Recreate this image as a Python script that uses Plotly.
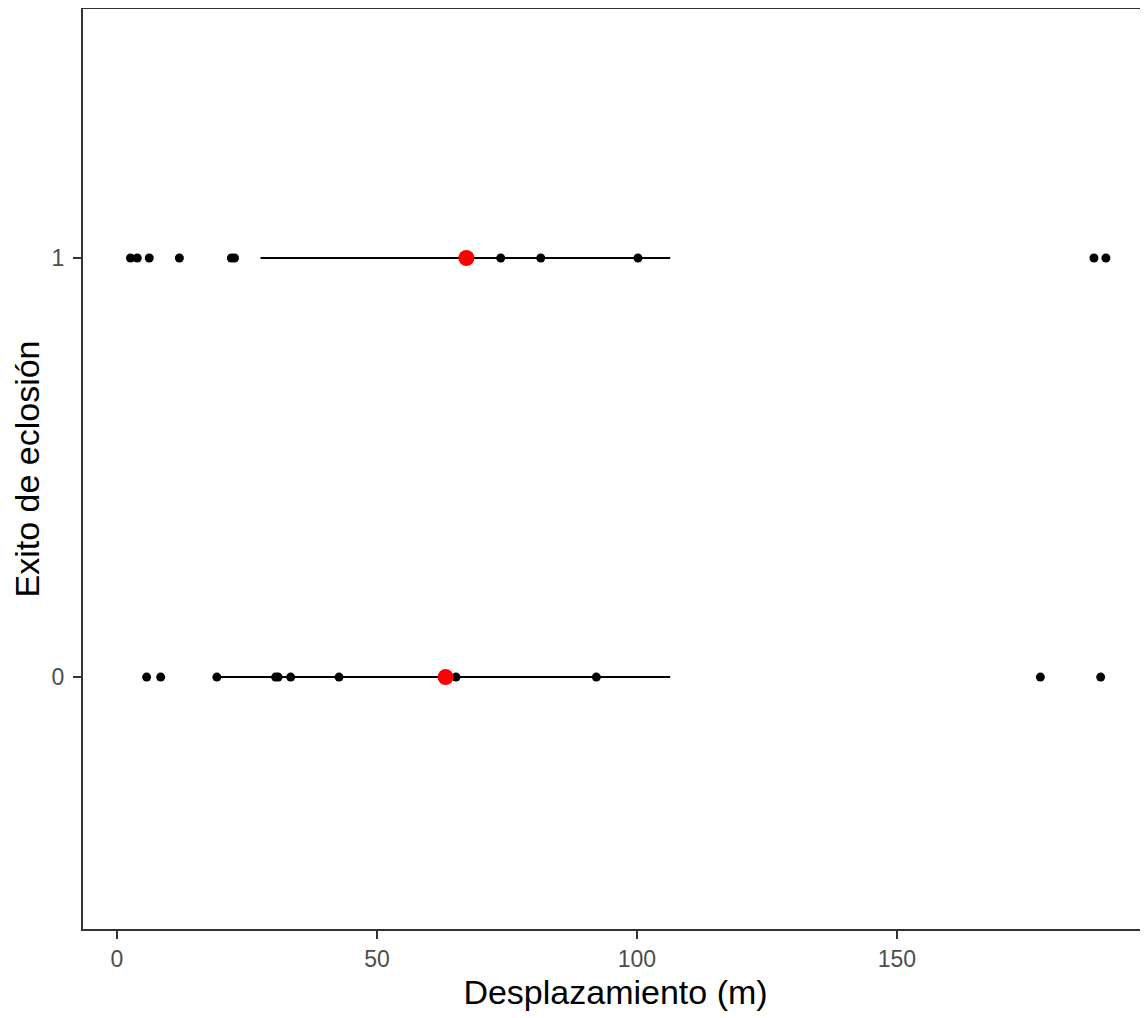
import plotly.graph_objects as go

# Data
disp_1 = [2.6, 3.9, 6.2, 12.0, 22.0, 22.6, 73.8, 81.5, 100.2, 187.9, 190.2]
disp_0 = [5.7, 8.4, 19.2, 30.5, 31.0, 33.4, 42.7, 65.2, 92.2, 177.6, 189.2]
mean_1 = 67.2
mean_0 = 63.2
seg_1 = [27.6, 106.4]
seg_0 = [19.2, 106.4]
y_ticks = [0, 1]
x_ticks = [0, 50, 100, 150]

fig = go.Figure()

# horizontal segments
fig.add_trace(go.Scatter(x=seg_1, y=[1, 1], mode="lines",
                         line=dict(color="black", width=2), showlegend=False))
fig.add_trace(go.Scatter(x=seg_0, y=[0, 0], mode="lines",
                         line=dict(color="black", width=2), showlegend=False))
# points
fig.add_trace(go.Scatter(x=disp_1, y=[1] * len(disp_1), mode="markers",
                         marker=dict(color="black", size=9), showlegend=False))
fig.add_trace(go.Scatter(x=disp_0, y=[0] * len(disp_0), mode="markers",
                         marker=dict(color="black", size=9), showlegend=False))
# means
fig.add_trace(go.Scatter(x=[mean_1, mean_0], y=[1, 0], mode="markers",
                         marker=dict(color="red", size=16), showlegend=False))

axis_font = dict(family="Liberation Sans, Arial, sans-serif", size=23, color="#4D4D4D")
title_font = dict(family="Liberation Sans, Arial, sans-serif", size=34, color="black")

fig.update_layout(
    width=1140, height=1010,
    margin=dict(l=75, r=0, t=1, b=89),
    plot_bgcolor="white", paper_bgcolor="white",
    xaxis=dict(
        range=[-6.54, 198.3], tickvals=x_ticks, ticktext=[str(v) for v in x_ticks],
        showgrid=False, zeroline=False,
        showline=True, linecolor="#333333", linewidth=2, mirror=True,
        ticks="outside", ticklen=8, tickwidth=2, tickcolor="#333333",
        tickfont=axis_font,
        title=dict(text="Desplazamiento (m)", font=title_font, standoff=10),
    ),
    yaxis=dict(
        range=[-0.601, 1.594], tickvals=y_ticks, ticktext=[str(v) for v in y_ticks],
        showgrid=False, zeroline=False,
        showline=True, linecolor="#333333", linewidth=2, mirror=False,
        ticks="outside", ticklen=8, tickwidth=2, tickcolor="#333333",
        tickfont=axis_font, ticklabelstandoff=4,
        title=dict(text="Exito de eclosión", font=title_font, standoff=8),
    ),
)

fig.write_html("out.html")
